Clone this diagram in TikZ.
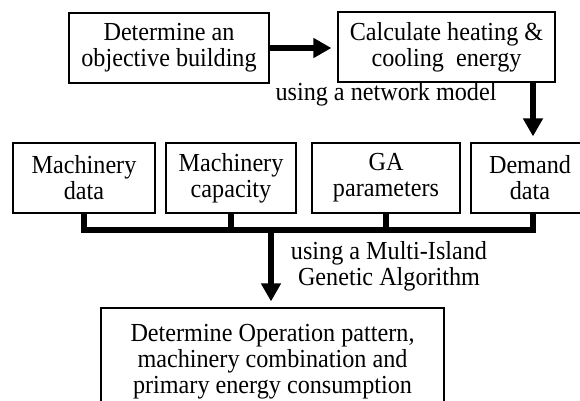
\documentclass[tikz,border=0pt]{standalone}
\usepackage{fontspec}
\setmainfont{Liberation Serif}[FakeStretch=0.93]
\usetikzlibrary{arrows.meta}
\newcommand\diafont{\fontsize{26}{26}\selectfont}
\begin{document}
\begin{tikzpicture}[x=1pt,y=-1pt,
  box/.style={draw, line width=1.2pt, inner sep=0pt, align=center, font=\diafont},
  lbl/.style={inner sep=0pt, align=center, font=\diafont},
  bus/.style={line width=6pt, line join=miter},
  arr/.style={line width=6pt, -{Triangle[width=19pt,length=18pt]}, shorten >=6pt}]
\useasboundingbox (0,0) rectangle (580,400);
\clip (0,0) rectangle (580,400);

% top row
\node[box, minimum width=200pt, minimum height=70pt] (obj) at (169,48) {Determine an\\objective building};
\node[box, minimum width=217pt, minimum height=70pt] (calc) at (446.5,47) {Calculate heating \&\\cooling~~energy};

% input row
\node[box, minimum width=142pt, minimum height=70pt] (data) at (84,178) {Machinery\\data};
\node[box, minimum width=130pt, minimum height=70pt] (cap) at (231,178) {Machinery\\capacity};
\node[box, minimum width=148pt, minimum height=70pt] (ga) at (386,178) {GA\\parameters};
\node[box, minimum width=118pt, minimum height=70pt] (dem) at (530,178) {Demand\\data};

% result
\node[box, minimum width=343pt, minimum height=108pt] (res) at (272.5,362)
  {Determine Operation pattern,\\machinery combination and\\primary energy consumption};

% labels
\node[lbl] (netlbl) at (386,94) {using a network model};
\node[lbl] (galbl) at (389,266) {using a Multi-Island\\Genetic Algorithm};

% bus joining the inputs
\coordinate (busL) at (84,230);
\coordinate (busR) at (533,230);
\coordinate (busM) at (271,230);
\draw[bus] (data.south) -- (data.south |- busL) -- (busR) -- (busR |- dem.south);
\draw[bus] (cap.south) -- (cap.south |- busL);
\draw[bus] (ga.south) -- (ga.south |- busL);

% arrows
\draw[arr] (obj.east) -- (obj.east -| calc.west);
\draw[arr] (calc.south -| busR) -- (dem.north -| busR);
\draw[arr] (busM) -- (busM |- res.north);
\end{tikzpicture}
\end{document}
